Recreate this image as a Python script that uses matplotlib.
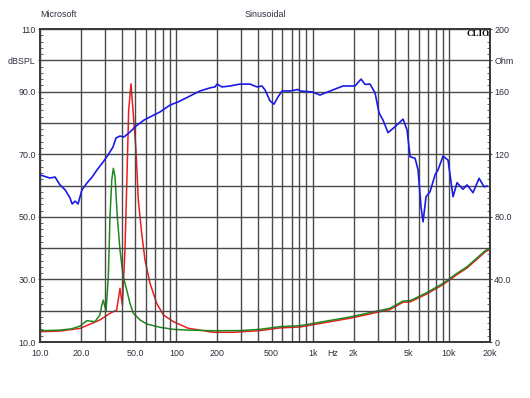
import matplotlib
matplotlib.use('Agg')
from matplotlib import pyplot as plt
from matplotlib.ticker import FixedLocator, NullFormatter

plt.rcParams['font.family'] = ['Liberation Sans', 'DejaVu Sans']

# SPL response (dB)
spl_freq = [10, 11.8, 12.9, 14.0, 15.3, 16.6, 17.2, 18.1, 19.0, 20.3, 22.1, 24.1, 26.2, 29.0,
            31.5, 34.3, 36.1, 38.6, 41.3, 45.7, 50.6, 57.9, 64.1, 75.9, 89.9, 103, 126, 149,
            177, 192, 199, 216, 248, 293, 347, 391, 425, 448, 487, 521, 557, 596, 682, 780,
            809, 991, 1133, 1343, 1672, 2047, 2265, 2423, 2636, 2870, 3070, 3283, 3573, 4025,
            4607, 4930, 5188, 5641, 5934, 6240, 6456, 6790, 7265, 7907, 8318, 9057, 9848,
            10720, 11460, 12680, 13570, 15020, 16630, 18100, 19050]
spl_db = [63.4, 62.4, 62.7, 60.2, 58.6, 56.0, 54.1, 55.0, 54.1, 58.6, 60.8, 62.7, 65.0, 67.5,
          69.7, 72.3, 75.2, 75.8, 75.5, 77.1, 79.0, 80.9, 81.9, 83.5, 85.7, 86.7, 88.6, 90.2,
          91.2, 91.5, 92.4, 91.5, 91.8, 92.4, 92.4, 91.5, 91.8, 90.5, 87.0, 86.0, 88.3, 90.2,
          90.2, 90.7, 90.2, 89.9, 88.9, 90.2, 91.8, 91.8, 94.0, 92.3, 92.4, 89.6, 83.2, 80.9,
          76.9, 78.8, 81.2, 77.7, 69.2, 68.7, 65.0, 53.2, 48.4, 56.4, 58.0, 63.4, 65.0, 69.4,
          68.1, 56.4, 60.9, 58.8, 60.2, 57.7, 62.3, 59.6, 59.8]

# impedance, green trace (Ohm)
imp_g_freq = [10, 14, 17, 19.7, 22.0, 25.3, 27.5, 28.4, 29.1, 30.5, 31.7, 32.6, 33.6, 34.5,
              35.5, 36.9, 38.6, 40.8, 43.3, 45.7, 48.4, 54.2, 60.7, 75.9, 95.1, 122, 188, 293,
              411, 576, 809, 954, 1881, 2495, 2770, 3680, 4607, 5188, 6870, 9057, 11460, 13570,
              18420, 20000]
imp_g_ohm = [7.2, 7.6, 8.4, 10.2, 13.6, 13.0, 17.3, 23.6, 26.8, 19.8, 41.7, 80.0, 103.5, 111.0,
             105.6, 80.0, 58.8, 41.7, 33.2, 24.7, 18.3, 14.1, 11.5, 9.4, 8.1, 7.6, 7.2, 7.3,
             8.1, 9.8, 10.4, 11.5, 16.0, 18.3, 19.2, 21.5, 26.2, 26.4, 31.5, 37.5, 43.9, 48.1,
             58.3, 60.0]

# impedance, red trace (Ohm)
imp_r_freq = [10, 14, 19.7, 27.5, 32.6, 34.5, 36.5, 38.6, 40.2, 42.0, 43.3, 44.7, 46.5, 48.1,
              50.6, 52.6, 55.7, 58.9, 64.1, 71.8, 80.3, 95.1, 122, 187, 262, 411, 576, 809,
              954, 1881, 2495, 2770, 3680, 4607, 5188, 6870, 9057, 11460, 13570, 18420, 20000]
imp_r_ohm = [6.6, 7.0, 8.7, 14.1, 18.3, 19.4, 20.4, 34.3, 23.6, 58.8, 101.0, 148.0, 165.0, 148.0,
             122.7, 90.7, 69.5, 52.4, 37.5, 24.7, 17.3, 13.0, 8.8, 6.2, 6.2, 7.3, 9.0, 9.6,
             10.7, 15.2, 17.5, 18.4, 20.7, 25.4, 25.6, 30.7, 36.7, 43.1, 47.3, 57.5, 59.3]

x_labels = ['10.0', '20.0', '50.0', '100', '200', '500', '1k', 'Hz', '2k', '5k', '10k', '20k']
x_label_pos = [10, 20, 50, 100, 200, 500, 1000, 1400, 2000, 5000, 10000, 20000]
left_labels = ['10.0', '30.0', '50.0', '70.0', '90.0', 'dBSPL', '110']
left_pos = [10, 30, 50, 70, 90, 100, 110]
right_labels = ['0', '40.0', '80.0', '120', '160', 'Ohm', '200']
right_pos = [0, 40, 80, 120, 160, 180, 200]

txt = '#2e2e3e'
gridc = '#4a4a4a'

fig = plt.figure(figsize=(5.30, 3.98), dpi=100)
ax = fig.add_axes([0.0755, 0.1407, 0.849, 0.7864])
ax.set_xscale('log')
ax.set_xlim(10, 20000)
ax.set_ylim(10, 110)

# grid
grid_f = [m * 10 ** e for e in range(1, 4) for m in range(1, 10)] + [10000, 20000]
for f in grid_f:
    ax.axvline(f, color=gridc, lw=1.0, zorder=1)
for d in range(10, 111, 10):
    ax.axhline(d, color=gridc, lw=1.0, zorder=1)

ax2 = ax.twinx()
ax2.set_ylim(0, 200)
ax2.plot(imp_r_freq, imp_r_ohm, color='#ee1c1c', lw=1.1, zorder=3)
ax2.plot(imp_g_freq, imp_g_ohm, color='#1e8a1e', lw=1.1, zorder=4)
ax.set_zorder(ax2.get_zorder() + 1)
ax.patch.set_visible(False)
ax.plot(spl_freq, spl_db, color='#1a1ae6', lw=1.2, zorder=5)

ax.xaxis.set_major_locator(FixedLocator(x_label_pos))
ax.set_xticklabels(x_labels)
ax.xaxis.set_minor_formatter(NullFormatter())
ax.xaxis.set_minor_locator(FixedLocator([]))
ax.tick_params(axis='x', length=0, pad=5, labelsize=6.4, labelcolor=txt)

ax.set_yticks(left_pos)
ax.set_yticklabels(left_labels)
ax.yaxis.set_minor_locator(FixedLocator(list(range(10, 111, 2))))
ax.tick_params(axis='y', which='major', length=1.5, direction='out', pad=1.5,
               labelsize=6.4, labelcolor=txt, color=gridc)
ax.tick_params(axis='y', which='minor', length=2, direction='in', color=gridc)

ax2.set_yticks(right_pos)
ax2.set_yticklabels(right_labels)
ax2.yaxis.set_minor_locator(FixedLocator(list(range(0, 201, 4))))
ax2.tick_params(axis='y', which='major', length=1.5, direction='out', pad=1.5,
                labelsize=6.4, labelcolor=txt, color=gridc)
ax2.tick_params(axis='y', which='minor', length=2, direction='in', color=gridc)

for a in (ax, ax2):
    for s in a.spines.values():
        s.set_color('#3a3a3a')
        s.set_linewidth(1.3)

fig.text(0.0755, 0.964, 'Microsoft', fontsize=6.4, color=txt, ha='left', va='center')
fig.text(0.50, 0.964, 'Sinusoidal', fontsize=6.4, color=txt, ha='center', va='center')
ax.text(0.999, 0.998, 'CLIO', transform=ax.transAxes, fontsize=6.5, fontweight='bold',
        family='Liberation Serif', ha='right', va='top', color='black', zorder=6)

fig.savefig('out.png', dpi=100)
